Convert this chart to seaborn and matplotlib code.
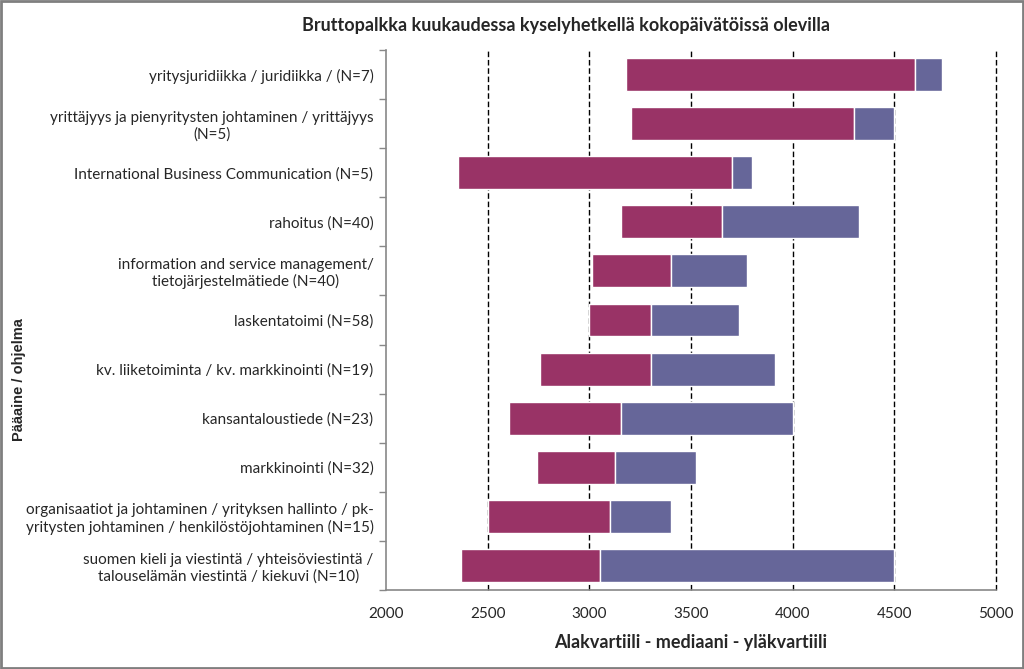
import pandas as pd
import matplotlib.pyplot as plt
import seaborn as sns
from matplotlib.patches import Rectangle

# Pääaine / ohjelma (top to bottom)
programs = [
    "yritysjuridiikka / juridiikka / (N=7)",
    "yrittäjyys ja pienyritysten johtaminen / yrittäjyys\n(N=5)",
    "International Business Communication (N=5)",
    "rahoitus (N=40)",
    "information and service management/\ntietojärjestelmätiede (N=40)",
    "laskentatoimi (N=58)",
    "kv. liiketoiminta / kv. markkinointi (N=19)",
    "kansantaloustiede (N=23)",
    "markkinointi (N=32)",
    "organisaatiot ja johtaminen / yrityksen hallinto / pk-\nyritysten johtaminen / henkilöstöjohtaminen (N=15)",
    "suomen kieli ja viestintä / yhteisöviestintä /\ntalouselämän viestintä / kiekuvi (N=10)",
]
lower_q = [3180, 3205, 2352, 3155, 3014, 3000, 2759, 2604, 2742, 2500, 2368]
median = [4600, 4304, 3700, 3650, 3402, 3302, 3302, 3155, 3127, 3103, 3050]
upper_q = [4735, 4500, 3799, 4324, 3777, 3736, 3911, 4000, 3525, 3400, 4500]

df = pd.DataFrame({"program": programs, "low": lower_q, "med": median, "high": upper_q})
df["seg1"] = df["med"] - df["low"]
df["seg2"] = df["high"] - df["med"]

sns.set_style("white")
plt.rcParams["font.family"] = ["Lato", "DejaVu Sans"]

fig = plt.figure(figsize=(10.24, 6.69), dpi=100)
ax = fig.add_axes([386 / 1024, 1 - 590 / 669, 610 / 1024, 540 / 669])

# dashed vertical gridlines behind the bars
for v in [2500, 3000, 3500, 4000, 4500, 5000]:
    ax.axvline(v, color="black", linestyle=(0, (4, 2)), linewidth=1.0,
               zorder=0, clip_on=False)

# floating bars: lower quartile -> median, median -> upper quartile
sns.barplot(data=df, y="program", x="seg1", color="#993366", saturation=1,
            width=0.67, orient="h", ax=ax, zorder=2)
for patch, left in zip(ax.containers[-1], df["low"]):
    patch.set_x(left)
sns.barplot(data=df, y="program", x="seg2", color="#666699", saturation=1,
            width=0.67, orient="h", ax=ax, zorder=2)
for patch, left in zip(ax.containers[-1], df["med"]):
    patch.set_x(left)

ax.set_xlim(2000, 5000)
ax.set_ylim(len(programs) - 0.5, -0.5)
ax.set_xticks([2000, 2500, 3000, 3500, 4000, 4500, 5000])
ax.tick_params(axis="x", labelsize=11, length=5, width=1, color="#888888",
               direction="inout", pad=10)

# category labels at bar centres, tick marks at category boundaries
ax.set_yticks(range(len(programs)))
ax.set_yticklabels(programs, fontsize=11, multialignment="center")
ax.tick_params(axis="y", length=0, pad=9)
ax.set_yticks([i - 0.5 for i in range(len(programs) + 1)], minor=True)
ax.tick_params(axis="y", which="minor", length=5, width=1, color="#888888",
               direction="out", left=True)

for side in ["top", "right"]:
    ax.spines[side].set_visible(False)
for side in ["left", "bottom"]:
    ax.spines[side].set_color("#888888")
    ax.spines[side].set_linewidth(1.2)

ax.set_xlabel("Alakvartiili - mediaani - yläkvartiili", fontsize=13,
              fontweight="bold", labelpad=9)
ax.set_ylabel("")
fig.text(19 / 1024, 1 - 380 / 669, "Pääaine / ohjelma", rotation=90,
         ha="center", va="center", fontsize=10.5, fontweight="bold",
         family=["Liberation Sans", "DejaVu Sans"])
fig.text(566 / 1024, 1 - 25 / 669,
         "Bruttopalkka kuukaudessa kyselyhetkellä kokopäivätöissä olevilla",
         ha="center", va="center", fontsize=13, fontweight="bold")

# chart border
fig.patches.append(Rectangle((0.001, 0.001), 0.998, 0.997, transform=fig.transFigure,
                             fill=False, edgecolor="#7f7f7f", linewidth=2))

fig.savefig("out.png", dpi=100)
